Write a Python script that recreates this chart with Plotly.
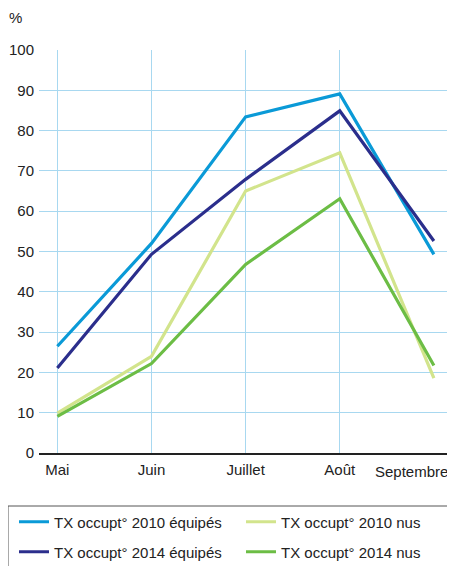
import plotly.graph_objects as go

months = ["Mai", "Juin", "Juillet", "Août", "Septembre"]
eq_2010 = [26.5, 52.0, 83.4, 89.1, 49.3]
eq_2014 = [21.1, 49.3, 67.9, 84.9, 52.6]
nus_2010 = [9.9, 24.0, 65.0, 74.5, 18.6]
nus_2014 = [9.1, 22.2, 46.8, 63.1, 21.7]

names = ["TX occupt° 2010 équipés", "TX occupt° 2010 nus",
         "TX occupt° 2014 équipés", "TX occupt° 2014 nus"]
colors = ["#0a9ad7", "#d2e48c", "#2b2e8c", "#6cbd45"]
series = [eq_2010, nus_2010, eq_2014, nus_2014]
legends = ["legend", "legend2", "legend3", "legend4"]

fig = go.Figure()
for n, c, s, lg in zip(names, colors, series, legends):
    fig.add_trace(go.Scatter(x=months, y=s, mode="lines", name=n,
                             line=dict(color=c, width=3.2), legend=lg))

OFF = 8  # page body margin
W, H = 455 - OFF, 566 - OFF
ml, mt = 39 - OFF, 50 - OFF
plot_right, plot_bottom = 448 - OFF, 453 - OFF
mr, mb = W - plot_right, H - plot_bottom
pw, ph = W - ml - mr, H - mt - mb

def px_x(px):
    return (px - OFF - ml) / pw

def px_y(py):
    return (plot_bottom - (py - OFF)) / ph

font = dict(family="Liberation Sans, Arial, sans-serif", size=15, color="#222")

leg_common = dict(orientation="h", xanchor="left", yanchor="middle",
                  bgcolor="rgba(0,0,0,0)", borderwidth=0,
                  font=dict(family="Liberation Sans, Arial, sans-serif", size=15, color="#222"),
                  itemwidth=30)

fig.update_layout(
    width=W, height=H,
    margin=dict(l=ml, r=mr, t=mt, b=mb, autoexpand=False),
    paper_bgcolor="white", plot_bgcolor="white",
    font=font,
    showlegend=True,
    legend=dict(x=px_x(14), y=px_y(522), **leg_common),
    legend2=dict(x=px_x(241), y=px_y(522), **leg_common),
    legend3=dict(x=px_x(14), y=px_y(552), **leg_common),
    legend4=dict(x=px_x(241), y=px_y(552), **leg_common),
    xaxis=dict(range=[-0.195, 4.15], showgrid=True, gridcolor="#a8d8f0", gridwidth=1,
               showline=True, linecolor="#222", linewidth=1.5,
               tickmode="array", tickvals=months[:-1], ticktext=months[:-1],
               ticks="", zeroline=False, tickfont=font, automargin=False,
               ticklabelstandoff=2),
    yaxis=dict(range=[0, 100], dtick=10, showgrid=True, gridcolor="#a8d8f0", gridwidth=1,
               showline=False, zeroline=False, ticks="", tickfont=font, automargin=False,
               ticklabelstandoff=4),
    shapes=[dict(type="rect", xref="paper", yref="paper",
                 x0=px_x(8), x1=px_x(470), y0=px_y(506), y1=px_y(580),
                 line=dict(color="#555", width=1), fillcolor="rgba(0,0,0,0)")],
    annotations=[
        dict(text="%", xref="paper", yref="paper", x=px_x(15), y=px_y(18),
             showarrow=False, font=font, xanchor="center", yanchor="middle"),
        dict(text=months[-1], xref="x", yref="paper", x=months[-1], y=px_y(471),
             xshift=16, showarrow=False, font=font, xanchor="right", yanchor="middle"),
    ],
)

fig.write_html("out.html")
